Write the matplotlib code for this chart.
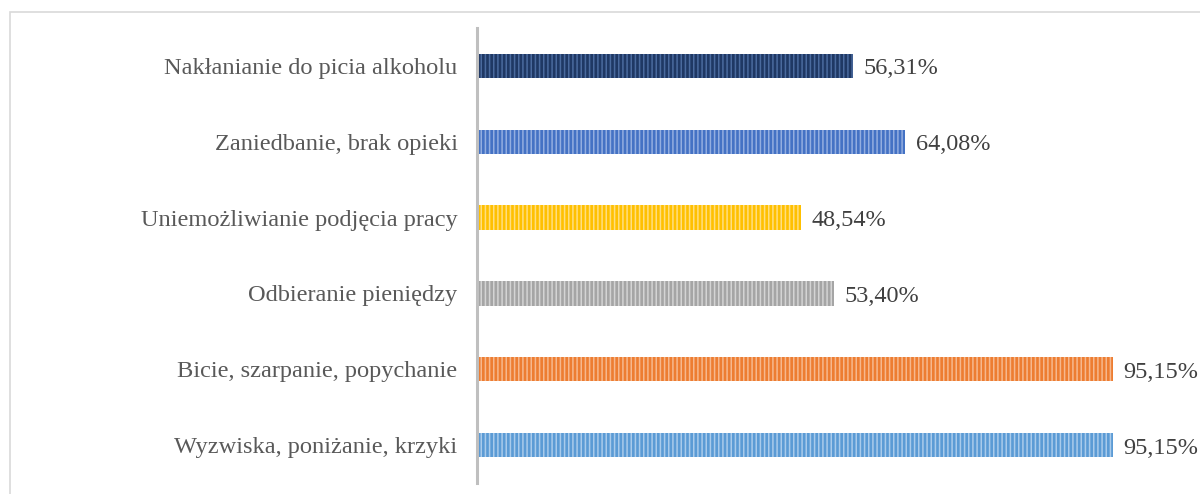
import matplotlib
matplotlib.use("Agg")
import matplotlib.pyplot as plt
from matplotlib.patches import Rectangle

categories = [
    "Wyzwiska, poniżanie, krzyki",
    "Bicie, szarpanie, popychanie",
    "Odbieranie pieniędzy",
    "Uniemożliwianie podjęcia pracy",
    "Zaniedbanie, brak opieki",
    "Nakłanianie do picia alkoholu",
]
values = [95.15, 95.15, 53.40, 48.54, 64.08, 56.31]
labels = ["95,15%", "95,15%", "53,40%", "48,54%", "64,08%", "56,31%"]
colors = ["#5B9BD5", "#ED7D31", "#A5A5A5", "#FFC000", "#4472C4", "#1F3864"]
stripe = ["#A9CBEB", "#F6B88E", "#D4D4D4", "#FFDE80", "#93AEE0", "#4A6A9E"]

plt.rcParams['font.family'] = ['Liberation Serif', 'DejaVu Serif']
plt.rcParams['hatch.linewidth'] = 1.1

fig = plt.figure(figsize=(12, 4.94), dpi=100)
ax = fig.add_axes([477/1200, (494-483)/494, (1145-477)/1200, (483-28)/494])

y = list(range(len(categories)))
for i, (v, c, s) in enumerate(zip(values, colors, stripe)):
    ax.barh(i, v, height=0.32, color=c, edgecolor=s, hatch='||||', linewidth=0)
    ax.text(v + 1.6, i - 0.04, labels[i], va='center', ha='left', fontsize=17.5, color='#404040', clip_on=False)

ax.set_xlim(0, 100)
ax.set_ylim(-0.5, len(categories) - 0.5)
ax.set_yticks(y)
ax.set_yticklabels(categories, fontsize=17.6, color='#595959', va='center_baseline')
ax.tick_params(axis='y', length=0, pad=14)
ax.set_xticks([])
for sp in ['top', 'right', 'bottom']:
    ax.spines[sp].set_visible(False)
ax.spines['left'].set_color('#BFBFBF')
ax.spines['left'].set_linewidth(2.2)

fig.patches.append(Rectangle((10/1200, -0.1), 1.2, 1 - 12/494 + 0.1, transform=fig.transFigure,
                             fill=False, edgecolor='#D9D9D9', linewidth=1.2, figure=fig))

fig.savefig("out.png", dpi=100)
